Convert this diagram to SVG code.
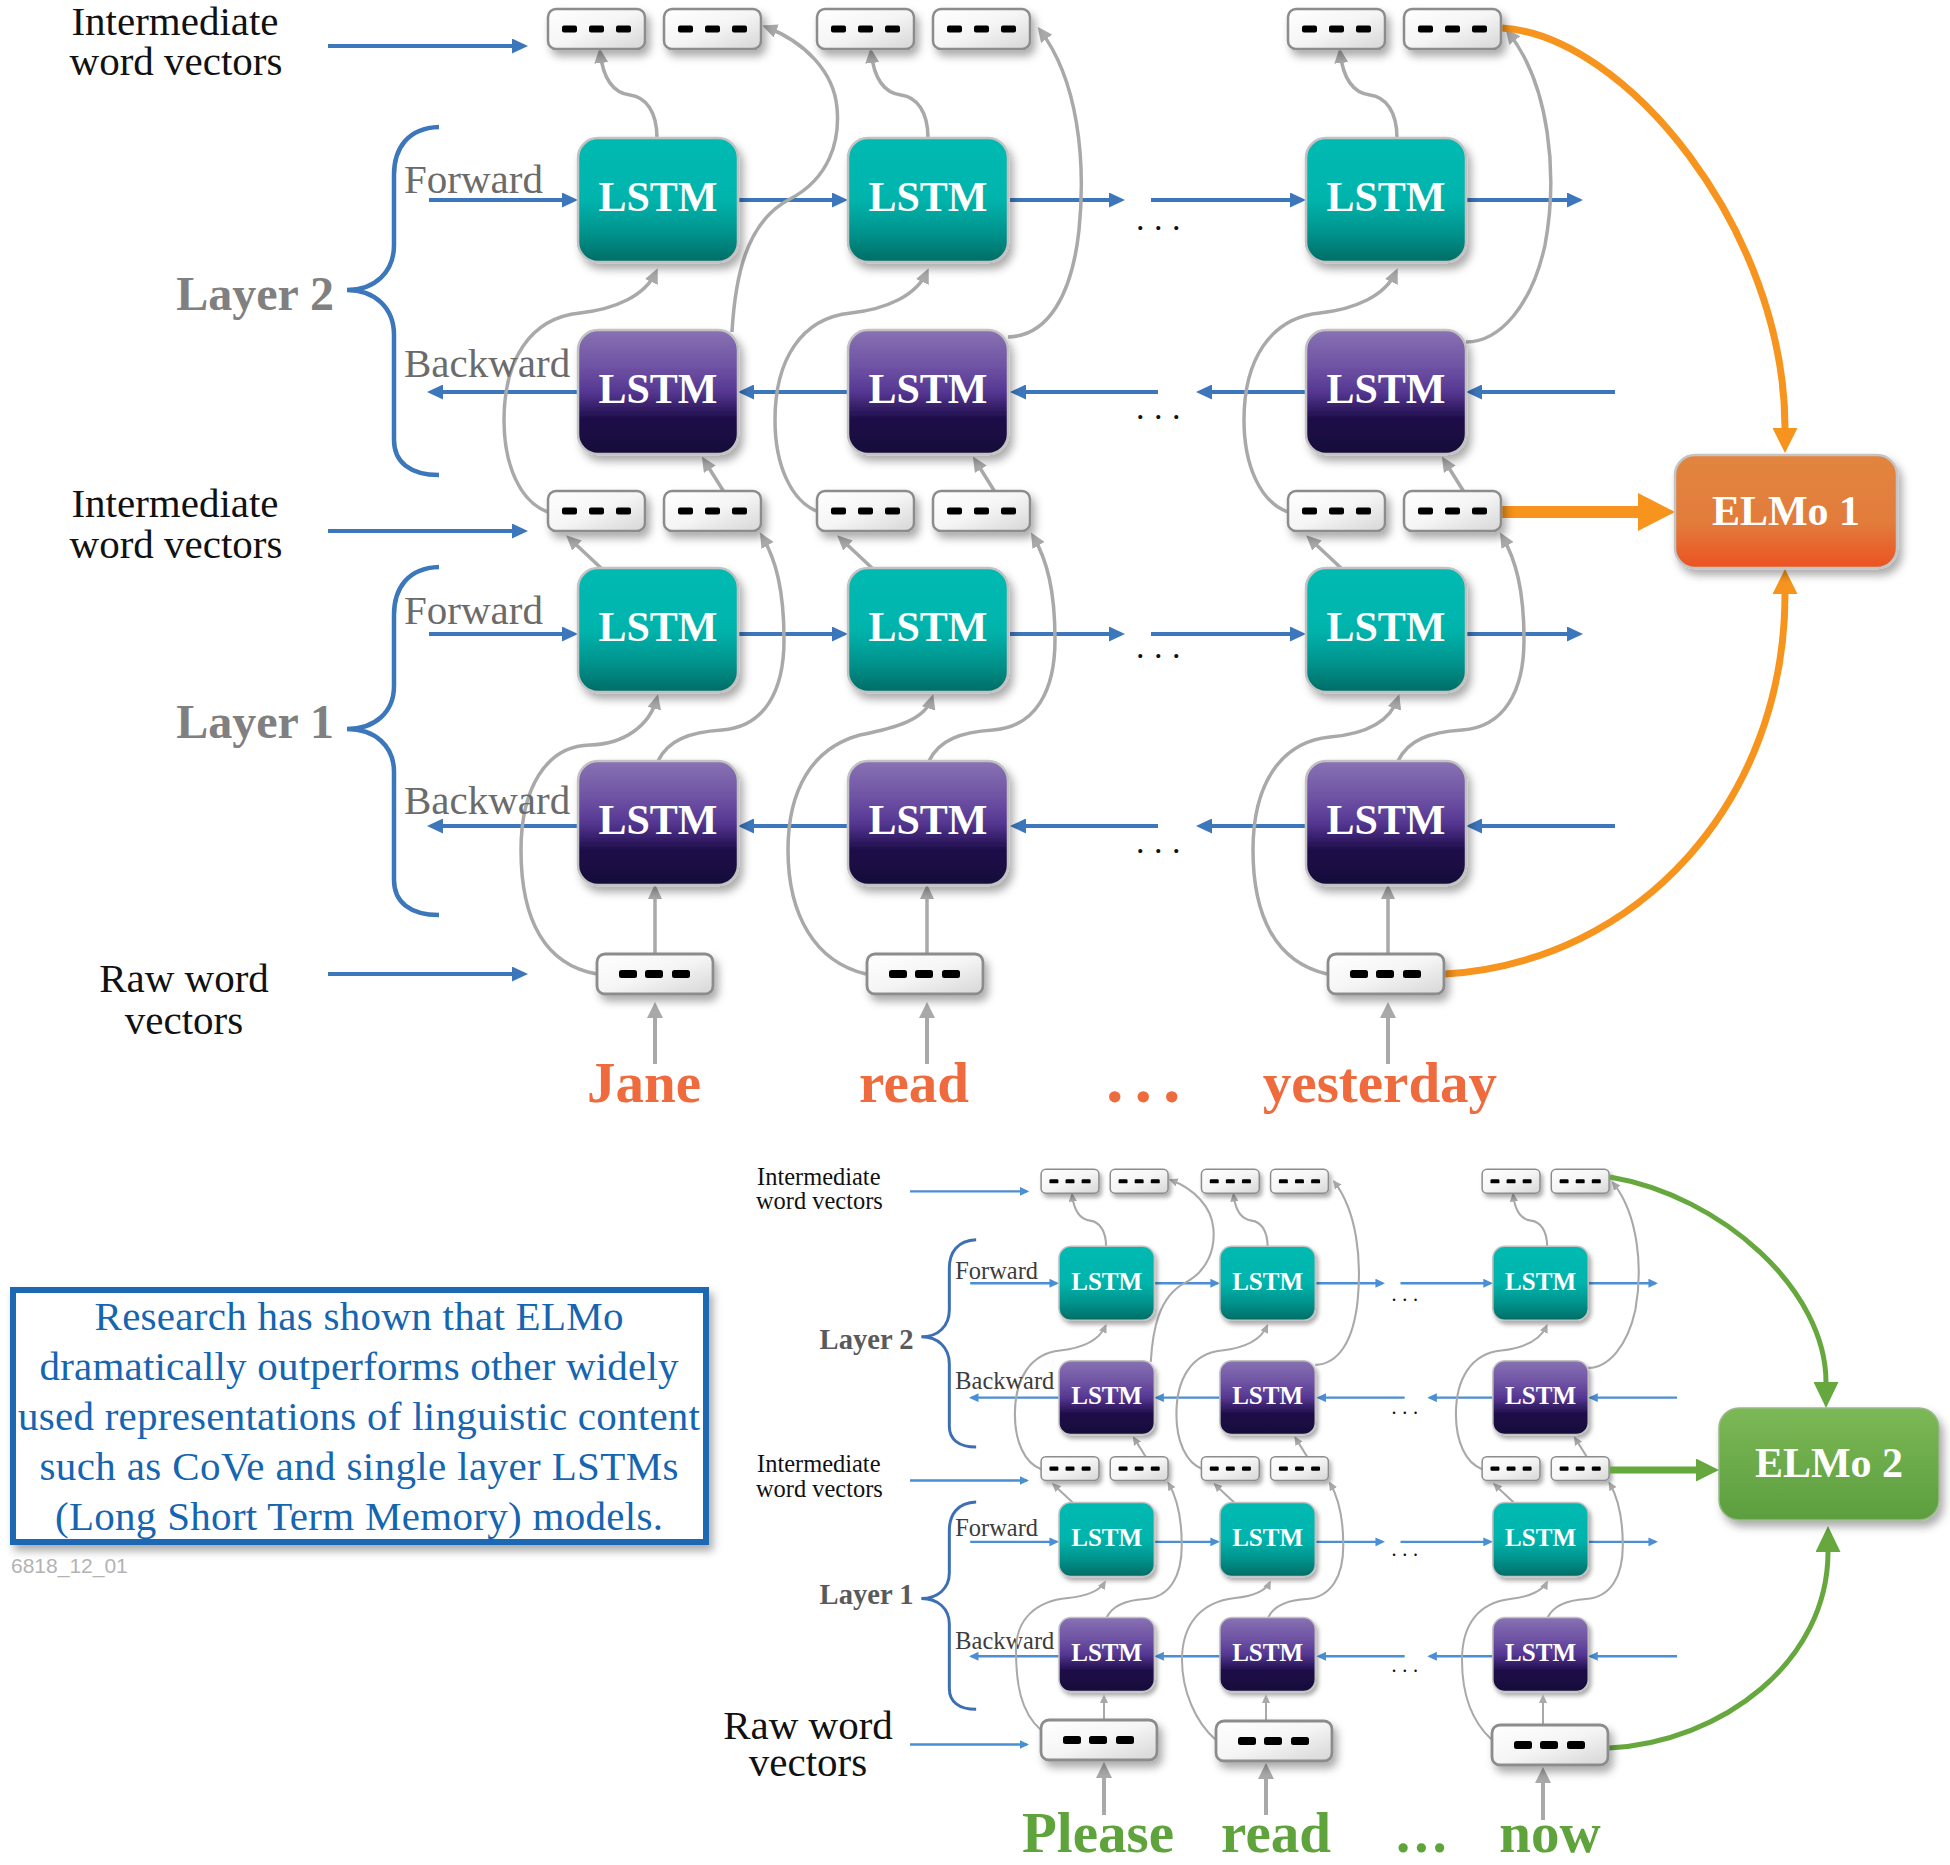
<svg xmlns="http://www.w3.org/2000/svg" xmlns:xlink="http://www.w3.org/1999/xlink" width="1950" height="1865" viewBox="0 0 1950 1865">
<defs>
<linearGradient id="gF" x1="0" y1="0" x2="0" y2="1">
<stop offset="0" stop-color="#00bab2"/><stop offset="0.5" stop-color="#00b4ac"/><stop offset="0.78" stop-color="#00918a"/><stop offset="1" stop-color="#006c66"/>
</linearGradient>
<linearGradient id="gB" x1="0" y1="0" x2="0" y2="1">
<stop offset="0" stop-color="#8872b3"/><stop offset="0.3" stop-color="#6e52a3"/><stop offset="0.5" stop-color="#553792"/><stop offset="0.72" stop-color="#1e0c49"/><stop offset="1" stop-color="#16083a"/>
</linearGradient>
<linearGradient id="gS" x1="0" y1="0" x2="1" y2="1">
<stop offset="0" stop-color="#ffffff"/><stop offset="0.5" stop-color="#f5f5f5"/><stop offset="1" stop-color="#d6d6d6"/>
</linearGradient>
<linearGradient id="gO" x1="0" y1="0" x2="0" y2="1">
<stop offset="0" stop-color="#e2853f"/><stop offset="0.6" stop-color="#e27c3b"/><stop offset="1" stop-color="#eb5222"/>
</linearGradient>
<linearGradient id="gN" x1="0" y1="0" x2="0" y2="1">
<stop offset="0" stop-color="#7cb856"/><stop offset="1" stop-color="#5c9e3e"/>
</linearGradient>
<filter id="sh" x="-20%" y="-20%" width="150%" height="170%">
<feDropShadow dx="4" dy="6" stdDeviation="4" flood-color="#000" flood-opacity="0.33"/>
</filter>
<marker id="mB" markerUnits="userSpaceOnUse" markerWidth="16" markerHeight="15" viewBox="0 0 16 15" refX="12" refY="7.5" orient="auto"><path d="M0,0L16,7.5L0,15z" fill="#3c76bb"/></marker>
<marker id="mB2" markerUnits="userSpaceOnUse" markerWidth="16" markerHeight="15" viewBox="0 0 16 15" refX="12" refY="7.5" orient="auto"><path d="M0,0L16,7.5L0,15z" fill="#4a8fd3"/></marker>
<marker id="mG" markerUnits="userSpaceOnUse" markerWidth="15" markerHeight="14" viewBox="0 0 15 14" refX="11" refY="7" orient="auto"><path d="M0,0L15,7L0,14z" fill="#a9a9a9"/></marker>
<marker id="mGs" markerUnits="userSpaceOnUse" markerWidth="9" markerHeight="8" viewBox="0 0 9 8" refX="7" refY="4" orient="auto"><path d="M0,0L9,4L0,8z" fill="#a9a9a9"/></marker>
<marker id="mGw" markerUnits="userSpaceOnUse" markerWidth="16" markerHeight="16" viewBox="0 0 16 16" refX="12" refY="8" orient="auto"><path d="M0,0L16,8L0,16z" fill="#a9a9a9"/></marker>
<marker id="mO1" markerUnits="userSpaceOnUse" markerWidth="25" markerHeight="25" viewBox="0 0 25 25" refX="0" refY="12.5" orient="auto"><path d="M0,0L25,12.5L0,25z" fill="#f7941d"/></marker>
<marker id="mO2" markerUnits="userSpaceOnUse" markerWidth="37" markerHeight="38" viewBox="0 0 37 38" refX="0" refY="19" orient="auto"><path d="M0,0L37,19L0,38z" fill="#f7941d"/></marker>
<marker id="mN1" markerUnits="userSpaceOnUse" markerWidth="26" markerHeight="25" viewBox="0 0 26 25" refX="0" refY="12.5" orient="auto"><path d="M0,0L26,12.5L0,25z" fill="#66a83d"/></marker>
<marker id="mN2" markerUnits="userSpaceOnUse" markerWidth="23" markerHeight="23" viewBox="0 0 23 23" refX="0" refY="11.5" orient="auto"><path d="M0,0L23,11.5L0,23z" fill="#66a83d"/></marker>
<g id="d3"><rect x="14" y="16.5" width="15" height="7" rx="2"/><rect x="41" y="16.5" width="15" height="7" rx="2"/><rect x="68" y="16.5" width="15" height="7" rx="2"/></g>
<g id="d3r"><rect x="22" y="16" width="18" height="8" rx="2.5"/><rect x="48" y="16" width="18" height="8" rx="2.5"/><rect x="75" y="16" width="18" height="8" rx="2.5"/></g>
</defs>
<style>
.lf{fill:url(#gF);stroke:#c2c2c2;stroke-width:2.5;filter:url(#sh)}
.lb{fill:url(#gB);stroke:#c2c2c2;stroke-width:2.5;filter:url(#sh)}
.sb{fill:url(#gS);stroke:#8c8c8c;stroke-width:2.5;filter:url(#sh)}
.rb{fill:url(#gS);stroke:#8c8c8c;stroke-width:2.8;filter:url(#sh)}
.eo{fill:url(#gO);stroke:#c4c4c4;stroke-width:2.5;filter:url(#sh)}
.en{fill:url(#gN);stroke:#9ab88a;stroke-width:1.5;filter:url(#sh)}
.lt{font-family:"Liberation Serif","Times New Roman",serif;font-weight:bold;font-size:42px;fill:#fff;text-anchor:middle}
.et{font-family:"Liberation Serif","Times New Roman",serif;font-weight:bold;font-size:42px;fill:#fff;text-anchor:middle}
.lab{font-family:"Liberation Serif","Times New Roman",serif;font-size:41px;fill:#111;text-anchor:middle}
.fb1{font-family:"Liberation Serif","Times New Roman",serif;font-size:41px;fill:#6b6b6b}
.fb2{font-family:"Liberation Serif","Times New Roman",serif;font-size:41px;fill:#3c3c3c}
.ly1{font-family:"Liberation Serif","Times New Roman",serif;font-weight:bold;font-size:48px;fill:#808080;text-anchor:end}
.ly2{font-family:"Liberation Serif","Times New Roman",serif;font-weight:bold;font-size:48px;fill:#5a5a5a;text-anchor:end}
.dt{font-family:"Liberation Serif","Times New Roman",serif;font-size:34px;fill:#111;letter-spacing:9.5px}
.w1{font-family:"Liberation Serif","Times New Roman",serif;font-weight:bold;font-size:57px;fill:#ef6a3c;text-anchor:middle}
.w2{font-family:"Liberation Serif","Times New Roman",serif;font-weight:bold;font-size:57px;fill:#5fa33c;text-anchor:middle}
.tb{font-family:"Liberation Serif","Times New Roman",serif;font-size:41px;fill:#1565b0;text-anchor:middle}
.b1{fill:none;stroke:#3c76bb;stroke-width:4;marker-end:url(#mB)}
.b2{fill:none;stroke:#4a8fd3;stroke-width:4;marker-end:url(#mB2)}
.br1{fill:none;stroke:#3c76bb;stroke-width:4.5}
.br2{fill:none;stroke:#3d6fb5;stroke-width:5}
.g{fill:none;stroke:#a9a9a9;stroke-width:3.5;marker-end:url(#mG)}
.gs{fill:none;stroke:#a9a9a9;stroke-width:2;marker-end:url(#mGs)}
.gw{fill:none;stroke:#a9a9a9;stroke-width:4;marker-end:url(#mGw)}
.o{fill:none;stroke:#f7941d}
.n{fill:none;stroke:#66a83d}
</style>
<rect width="1950" height="1865" fill="#fff"/>

<!-- ================= TOP DIAGRAM ================= -->
<g id="top">
<g id="connectors-top">
<path class="b1" d="M328,46H524"/>
<path class="b1" d="M328,531H524"/>
<path class="b1" d="M328,974H524"/>
<path class="b1" d="M429,200H574"/><path class="b1" d="M738,200H844"/><path class="b1" d="M1010,200H1121"/><path class="b1" d="M1151,200H1302"/><path class="b1" d="M1466,200H1579"/>
<path class="b1" d="M429,634H574"/><path class="b1" d="M738,634H844"/><path class="b1" d="M1010,634H1121"/><path class="b1" d="M1151,634H1302"/><path class="b1" d="M1466,634H1579"/>
<path class="b1" d="M578,392H431"/><path class="b1" d="M848,392H742"/><path class="b1" d="M1158,392H1014"/><path class="b1" d="M1306,392H1200"/><path class="b1" d="M1615,392H1470"/>
<path class="b1" d="M578,826H431"/><path class="b1" d="M848,826H742"/><path class="b1" d="M1158,826H1014"/><path class="b1" d="M1306,826H1200"/><path class="b1" d="M1615,826H1470"/>
<path class="br1" d="M439,127 C408,128 394,148 394,175 L394,245 C394,272 375,290 347,290 C375,290 394,308 394,335 L394,440 C394,462 410,475 439,475"/>
<path class="br1" d="M439,567 C408,568 394,588 394,615 L394,686 C394,712 375,729 347,729 C375,729 394,746 394,772 L394,880 C394,902 410,915 439,915"/>
<path class="g" d="M657,138 C657,112 646,97 630,95 C613,93 603,78 600,52"/>
<path class="g" d="M732,332 C735,280 745,222 790,199 C830,178 840,140 837,108 C834,72 805,42 766,27"/>
<path class="g" d="M548,512 C520,502 504,465 504,420 C504,360 530,318 580,313 C615,309 645,296 656,272"/>
<path class="g" d="M724,492 L704,460"/>
<path class="g" d="M601,568 L569,538"/>
<path class="g" d="M658,761 C668,740 690,732 722,730 C765,727 784,690 784,640 C784,590 776,560 762,536"/>
<path class="g" d="M597,974 C545,965 521,920 521,850 C521,790 545,746 590,745 C625,744 650,725 657,698"/>
<path class="g" d="M655,954 L655,888"/>
<path class="gw" d="M655,1064 L655,1006"/>
<path class="g" d="M928,138 C928,112 917,97 901,95 C884,93 874,78 871,52"/>
<path class="g" d="M1008,337 C1048,336 1072,295 1079,230 C1086,160 1078,80 1040,30"/>
<path class="g" d="M819,512 C791,502 775,465 775,420 C775,360 801,318 851,313 C886,309 916,296 927,272"/>
<path class="g" d="M995,492 L975,460"/>
<path class="g" d="M872,568 L840,538"/>
<path class="g" d="M929,761 C939,740 961,732 993,730 C1036,727 1055,690 1055,640 C1055,590 1047,560 1033,536"/>
<path class="g" d="M866,974 C815,962 788,915 788,850 C788,790 812,748 860,735 C895,728 925,720 932,698"/>
<path class="g" d="M927,954 L927,888"/>
<path class="gw" d="M927,1064 L927,1006"/>
<path class="g" d="M1397,138 C1397,112 1386,97 1370,95 C1353,93 1343,78 1340,52"/>
<path class="g" d="M1466,342 C1500,342 1532,305 1545,245 C1558,175 1550,85 1508,32"/>
<path class="g" d="M1288,512 C1260,502 1244,465 1244,420 C1244,360 1270,318 1320,313 C1355,309 1385,296 1396,272"/>
<path class="g" d="M1464,492 L1444,460"/>
<path class="g" d="M1341,568 L1309,538"/>
<path class="g" d="M1398,761 C1408,740 1430,732 1462,730 C1505,727 1524,690 1524,640 C1524,590 1516,560 1502,536"/>
<path class="g" d="M1327,974 C1275,962 1253,915 1253,850 C1253,785 1280,742 1330,737 C1365,734 1390,722 1398,698"/>
<path class="g" d="M1388,954 L1388,888"/>
<path class="gw" d="M1388,1064 L1388,1006"/>
<path class="o" stroke-width="7" marker-end="url(#mO1)" d="M1502,28 C1625,35 1785,230 1785,428"/>
<path class="o" stroke-width="12" marker-end="url(#mO2)" d="M1501,512 L1638,512"/>
<path class="o" stroke-width="7" marker-end="url(#mO1)" d="M1445,974 C1640,962 1785,800 1785,594"/>
</g>

<g id="labels-top">
<text class="lab" x="175" y="35">Intermediate<tspan x="176" dy="40">word vectors</tspan></text>
<text class="lab" x="175" y="517">Intermediate<tspan x="176" dy="41">word vectors</tspan></text>
<text class="lab" x="184" y="992">Raw word<tspan x="184" dy="42">vectors</tspan></text>
<text class="ly1" x="334" y="310">Layer 2</text>
<text class="ly1" x="334" y="738">Layer 1</text>
<text class="fb1" x="404" y="193">Forward</text>
<text class="fb1" x="404" y="377">Backward</text>
<text class="fb1" x="404" y="624">Forward</text>
<text class="fb1" x="404" y="814">Backward</text>
<text class="dt" x="1136" y="230">...</text>
<text class="dt" x="1136" y="419">...</text>
<text class="dt" x="1136" y="658">...</text>
<text class="dt" x="1136" y="853">...</text>
</g>

<g id="vA1" transform="translate(548,9)"><rect class="sb" width="97" height="40" rx="8"/><use href="#d3"/></g>
<g id="vA2" transform="translate(664,9)"><rect class="sb" width="97" height="40" rx="8"/><use href="#d3"/></g>
<g id="vA3" transform="translate(817,9)"><rect class="sb" width="97" height="40" rx="8"/><use href="#d3"/></g>
<g id="vA4" transform="translate(933,9)"><rect class="sb" width="97" height="40" rx="8"/><use href="#d3"/></g>
<g id="vA5" transform="translate(1288,9)"><rect class="sb" width="97" height="40" rx="8"/><use href="#d3"/></g>
<g id="vA6" transform="translate(1404,9)"><rect class="sb" width="97" height="40" rx="8"/><use href="#d3"/></g>
<g id="vB1" transform="translate(548,491)"><rect class="sb" width="97" height="40" rx="8"/><use href="#d3"/></g>
<g id="vB2" transform="translate(664,491)"><rect class="sb" width="97" height="40" rx="8"/><use href="#d3"/></g>
<g id="vB3" transform="translate(817,491)"><rect class="sb" width="97" height="40" rx="8"/><use href="#d3"/></g>
<g id="vB4" transform="translate(933,491)"><rect class="sb" width="97" height="40" rx="8"/><use href="#d3"/></g>
<g id="vB5" transform="translate(1288,491)"><rect class="sb" width="97" height="40" rx="8"/><use href="#d3"/></g>
<g id="vB6" transform="translate(1404,491)"><rect class="sb" width="97" height="40" rx="8"/><use href="#d3"/></g>
<g id="raw1" transform="translate(597,954)"><rect class="rb" width="116" height="40" rx="8"/><use href="#d3r"/></g>
<g id="raw2" transform="translate(867,954)"><rect class="rb" width="116" height="40" rx="8"/><use href="#d3r"/></g>
<g id="raw3" transform="translate(1328,954)"><rect class="rb" width="116" height="40" rx="8"/><use href="#d3r"/></g>

<g id="L2F1" transform="translate(578,138)"><rect class="lf" width="160" height="124" rx="20"/><text class="lt" x="80" y="73">LSTM</text></g>
<g id="L2F2" transform="translate(848,138)"><rect class="lf" width="160" height="124" rx="20"/><text class="lt" x="80" y="73">LSTM</text></g>
<g id="L2F3" transform="translate(1306,138)"><rect class="lf" width="160" height="124" rx="20"/><text class="lt" x="80" y="73">LSTM</text></g>
<g id="L2B1" transform="translate(578,330)"><rect class="lb" width="160" height="124" rx="20"/><text class="lt" x="80" y="73">LSTM</text></g>
<g id="L2B2" transform="translate(848,330)"><rect class="lb" width="160" height="124" rx="20"/><text class="lt" x="80" y="73">LSTM</text></g>
<g id="L2B3" transform="translate(1306,330)"><rect class="lb" width="160" height="124" rx="20"/><text class="lt" x="80" y="73">LSTM</text></g>
<g id="L1F1" transform="translate(578,568)"><rect class="lf" width="160" height="124" rx="20"/><text class="lt" x="80" y="73">LSTM</text></g>
<g id="L1F2" transform="translate(848,568)"><rect class="lf" width="160" height="124" rx="20"/><text class="lt" x="80" y="73">LSTM</text></g>
<g id="L1F3" transform="translate(1306,568)"><rect class="lf" width="160" height="124" rx="20"/><text class="lt" x="80" y="73">LSTM</text></g>
<g id="L1B1" transform="translate(578,761)"><rect class="lb" width="160" height="124" rx="20"/><text class="lt" x="80" y="73">LSTM</text></g>
<g id="L1B2" transform="translate(848,761)"><rect class="lb" width="160" height="124" rx="20"/><text class="lt" x="80" y="73">LSTM</text></g>
<g id="L1B3" transform="translate(1306,761)"><rect class="lb" width="160" height="124" rx="20"/><text class="lt" x="80" y="73">LSTM</text></g>

<g id="elmo1"><rect class="eo" x="1675" y="455" width="222" height="113" rx="20"/><text class="et" x="1786" y="525">ELMo 1</text></g>

<g id="words-top">
<text class="w1" x="644" y="1102">Jane</text>
<text class="w1" x="914" y="1102">read</text>
<text class="w1" x="1106" y="1102" style="font-size:70px;text-anchor:start;letter-spacing:11px">...</text>
<text class="w1" x="1380" y="1102">yesterday</text>
</g>
</g>

<!-- ================= BOTTOM DIAGRAM ================= -->
<g id="bottom">
<g transform="translate(714.5,1164) scale(0.596)">
<g id="connectors-bottom-scaled">
<path class="b2" d="M328,46H524"/>
<path class="b2" d="M328,531H524"/>
<path class="b2" d="M328,974H524"/>
<path class="b2" d="M429,200H574"/><path class="b2" d="M738,200H844"/><path class="b2" d="M1010,200H1121"/><path class="b2" d="M1151,200H1302"/><path class="b2" d="M1466,200H1579"/>
<path class="b2" d="M429,634H574"/><path class="b2" d="M738,634H844"/><path class="b2" d="M1010,634H1121"/><path class="b2" d="M1151,634H1302"/><path class="b2" d="M1466,634H1579"/>
<path class="b2" d="M578,392H431"/><path class="b2" d="M848,392H742"/><path class="b2" d="M1158,392H1014"/><path class="b2" d="M1306,392H1200"/><path class="b2" d="M1615,392H1470"/>
<path class="b2" d="M578,826H431"/><path class="b2" d="M848,826H742"/><path class="b2" d="M1158,826H1014"/><path class="b2" d="M1306,826H1200"/><path class="b2" d="M1615,826H1470"/>
<path class="br2" d="M439,127 C408,128 394,148 394,175 L394,245 C394,272 375,290 347,290 C375,290 394,308 394,335 L394,440 C394,462 410,475 439,475"/>
<path class="br2" d="M439,567 C408,568 394,588 394,615 L394,686 C394,712 375,729 347,729 C375,729 394,746 394,772 L394,880 C394,902 410,915 439,915"/>
<path class="g" d="M657,138 C657,112 646,97 630,95 C613,93 603,78 600,52"/>
<path class="g" d="M732,332 C735,280 745,222 790,199 C830,178 840,140 837,108 C834,72 805,42 766,27"/>
<path class="g" d="M548,512 C520,502 504,465 504,420 C504,360 530,318 580,313 C615,309 645,296 656,272"/>
<path class="g" d="M724,492 L704,460"/>
<path class="g" d="M601,568 L569,538"/>
<path class="g" d="M658,761 C668,740 690,732 722,730 C765,727 784,690 784,640 C784,590 776,560 762,536"/>
<path class="g" d="M928,138 C928,112 917,97 901,95 C884,93 874,78 871,52"/>
<path class="g" d="M1008,337 C1048,336 1072,295 1079,230 C1086,160 1078,80 1040,30"/>
<path class="g" d="M819,512 C791,502 775,465 775,420 C775,360 801,318 851,313 C886,309 916,296 927,272"/>
<path class="g" d="M995,492 L975,460"/>
<path class="g" d="M872,568 L840,538"/>
<path class="g" d="M929,761 C939,740 961,732 993,730 C1036,727 1055,690 1055,640 C1055,590 1047,560 1033,536"/>
<path class="g" d="M1397,138 C1397,112 1386,97 1370,95 C1353,93 1343,78 1340,52"/>
<path class="g" d="M1466,342 C1500,342 1532,305 1545,245 C1558,175 1550,85 1508,32"/>
<path class="g" d="M1288,512 C1260,502 1244,465 1244,420 C1244,360 1270,318 1320,313 C1355,309 1385,296 1396,272"/>
<path class="g" d="M1464,492 L1444,460"/>
<path class="g" d="M1341,568 L1309,538"/>
<path class="g" d="M1398,761 C1408,740 1430,732 1462,730 C1505,727 1524,690 1524,640 C1524,590 1516,560 1502,536"/>
</g>
<g id="labels-bottom-scaled">
<text class="lab" x="175" y="35">Intermediate<tspan x="176" dy="40">word vectors</tspan></text>
<text class="lab" x="175" y="517">Intermediate<tspan x="176" dy="41">word vectors</tspan></text>
<text class="ly2" x="334" y="310">Layer 2</text>
<text class="ly2" x="334" y="738">Layer 1</text>
<text class="fb2" x="404" y="193">Forward</text>
<text class="fb2" x="404" y="377">Backward</text>
<text class="fb2" x="404" y="624">Forward</text>
<text class="fb2" x="404" y="814">Backward</text>
<text class="dt" x="1136" y="230">...</text>
<text class="dt" x="1136" y="419">...</text>
<text class="dt" x="1136" y="658">...</text>
<text class="dt" x="1136" y="853">...</text>
</g>
<g id="bvA1" transform="translate(548,9)"><rect class="sb" width="97" height="40" rx="8"/><use href="#d3"/></g>
<g id="bvA2" transform="translate(664,9)"><rect class="sb" width="97" height="40" rx="8"/><use href="#d3"/></g>
<g id="bvA3" transform="translate(817,9)"><rect class="sb" width="97" height="40" rx="8"/><use href="#d3"/></g>
<g id="bvA4" transform="translate(933,9)"><rect class="sb" width="97" height="40" rx="8"/><use href="#d3"/></g>
<g id="bvA5" transform="translate(1288,9)"><rect class="sb" width="97" height="40" rx="8"/><use href="#d3"/></g>
<g id="bvA6" transform="translate(1404,9)"><rect class="sb" width="97" height="40" rx="8"/><use href="#d3"/></g>
<g id="bvB1" transform="translate(548,491)"><rect class="sb" width="97" height="40" rx="8"/><use href="#d3"/></g>
<g id="bvB2" transform="translate(664,491)"><rect class="sb" width="97" height="40" rx="8"/><use href="#d3"/></g>
<g id="bvB3" transform="translate(817,491)"><rect class="sb" width="97" height="40" rx="8"/><use href="#d3"/></g>
<g id="bvB4" transform="translate(933,491)"><rect class="sb" width="97" height="40" rx="8"/><use href="#d3"/></g>
<g id="bvB5" transform="translate(1288,491)"><rect class="sb" width="97" height="40" rx="8"/><use href="#d3"/></g>
<g id="bvB6" transform="translate(1404,491)"><rect class="sb" width="97" height="40" rx="8"/><use href="#d3"/></g>
<g id="bL2F1" transform="translate(578,138)"><rect class="lf" width="160" height="124" rx="20"/><text class="lt" x="80" y="73">LSTM</text></g>
<g id="bL2F2" transform="translate(848,138)"><rect class="lf" width="160" height="124" rx="20"/><text class="lt" x="80" y="73">LSTM</text></g>
<g id="bL2F3" transform="translate(1306,138)"><rect class="lf" width="160" height="124" rx="20"/><text class="lt" x="80" y="73">LSTM</text></g>
<g id="bL2B1" transform="translate(578,330)"><rect class="lb" width="160" height="124" rx="20"/><text class="lt" x="80" y="73">LSTM</text></g>
<g id="bL2B2" transform="translate(848,330)"><rect class="lb" width="160" height="124" rx="20"/><text class="lt" x="80" y="73">LSTM</text></g>
<g id="bL2B3" transform="translate(1306,330)"><rect class="lb" width="160" height="124" rx="20"/><text class="lt" x="80" y="73">LSTM</text></g>
<g id="bL1F1" transform="translate(578,568)"><rect class="lf" width="160" height="124" rx="20"/><text class="lt" x="80" y="73">LSTM</text></g>
<g id="bL1F2" transform="translate(848,568)"><rect class="lf" width="160" height="124" rx="20"/><text class="lt" x="80" y="73">LSTM</text></g>
<g id="bL1F3" transform="translate(1306,568)"><rect class="lf" width="160" height="124" rx="20"/><text class="lt" x="80" y="73">LSTM</text></g>
<g id="bL1B1" transform="translate(578,761)"><rect class="lb" width="160" height="124" rx="20"/><text class="lt" x="80" y="73">LSTM</text></g>
<g id="bL1B2" transform="translate(848,761)"><rect class="lb" width="160" height="124" rx="20"/><text class="lt" x="80" y="73">LSTM</text></g>
<g id="bL1B3" transform="translate(1306,761)"><rect class="lb" width="160" height="124" rx="20"/><text class="lt" x="80" y="73">LSTM</text></g>
</g>

<g id="connectors-bottom">
<path class="gs" d="M1041,1730 C1020,1712 1016,1682 1016,1650 C1016,1620 1035,1601 1068,1598 C1088,1596 1100,1590 1105,1582"/>
<path class="gs" d="M1216,1740 C1195,1722 1182,1690 1182,1660 C1182,1625 1200,1602 1235,1598 C1255,1596 1266,1590 1270,1582"/>
<path class="gs" d="M1492,1740 C1470,1720 1462,1690 1462,1660 C1462,1625 1478,1603 1510,1599 C1530,1597 1543,1590 1547,1582"/>
<path class="gs" d="M1104,1720 L1104,1696"/>
<path class="gs" d="M1266,1721 L1266,1696"/>
<path class="gs" d="M1543,1725 L1543,1696"/>
<path class="gw" d="M1104,1815 L1104,1766"/>
<path class="gw" d="M1266,1815 L1266,1767"/>
<path class="gw" d="M1543,1820 L1543,1771"/>
<path class="n" stroke-width="5" marker-end="url(#mN1)" d="M1610,1177 C1722,1196 1826,1290 1826,1382"/>
<path class="n" stroke-width="7" marker-end="url(#mN2)" d="M1610,1470 L1696,1470"/>
<path class="n" stroke-width="5" marker-end="url(#mN1)" d="M1609,1748 C1722,1742 1828,1662 1828,1552"/>
</g>
<g id="braw1" transform="translate(1041,1720)"><rect class="rb" width="116" height="40" rx="8"/><use href="#d3r"/></g>
<g id="braw2" transform="translate(1216,1721)"><rect class="rb" width="116" height="40" rx="8"/><use href="#d3r"/></g>
<g id="braw3" transform="translate(1492,1725)"><rect class="rb" width="116" height="40" rx="8"/><use href="#d3r"/></g>
<g id="elmo2"><rect class="en" x="1719" y="1408" width="220" height="112" rx="20"/><text class="et" x="1829" y="1477">ELMo 2</text></g>
<g id="labels-bottom">
<text class="lab" x="808" y="1739">Raw word<tspan x="808" dy="37">vectors</tspan></text>
<text class="w2" x="1098" y="1852">Please</text>
<text class="w2" x="1276" y="1852">read</text>
<text class="w2" x="1396" y="1852" style="text-anchor:start;letter-spacing:4px">...</text>
<text class="w2" x="1550" y="1852">now</text>
</g>
</g>

<!-- ================= NOTE BOX ================= -->
<g id="note">
<rect x="13" y="1290" width="693" height="252" fill="#fff" stroke="#1a67b3" stroke-width="6" filter="url(#sh)"/>
<text class="tb" x="359" y="1330" textLength="529" lengthAdjust="spacing">Research has shown that ELMo</text>
<text class="tb" x="359" y="1380" textLength="639" lengthAdjust="spacing">dramatically outperforms other widely</text>
<text class="tb" x="359" y="1430" textLength="682" lengthAdjust="spacing">used representations of linguistic content</text>
<text class="tb" x="359" y="1480" textLength="639" lengthAdjust="spacing">such as CoVe and single layer LSTMs</text>
<text class="tb" x="359" y="1530" textLength="608" lengthAdjust="spacing">(Long Short Term Memory) models.</text>
</g>
<text x="11" y="1573" font-family="'Liberation Sans', Arial, sans-serif" font-size="21" fill="#b3b3b3">6818_12_01</text>
</svg>
